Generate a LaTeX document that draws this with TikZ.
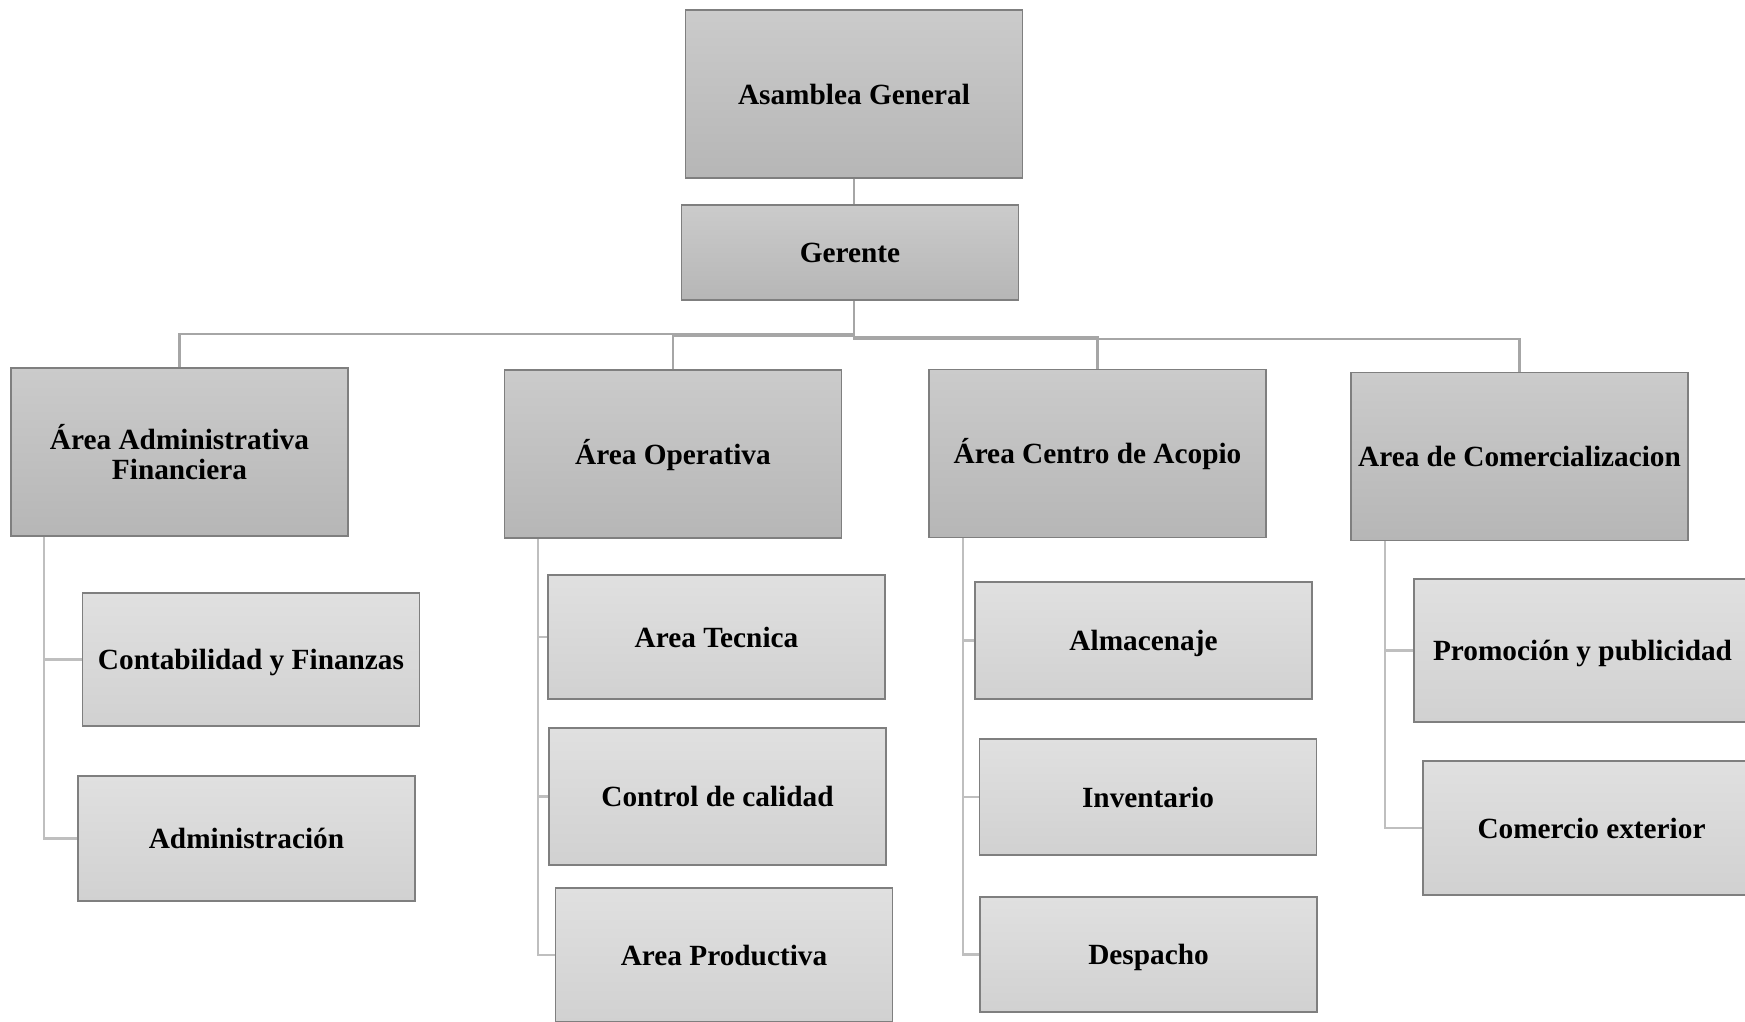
\documentclass[tikz,border=0pt]{standalone}
\usepackage{fontspec}
\setmainfont{Liberation Serif}
\usetikzlibrary{calc}
\definecolor{boxline}{HTML}{7F7F7F}
\definecolor{headtop}{HTML}{CBCBCB}
\definecolor{headbot}{HTML}{B6B6B6}
\definecolor{subtop}{HTML}{E0E0E0}
\definecolor{subbot}{HTML}{D1D1D1}
\definecolor{barcol}{HTML}{A6A6A6}
\definecolor{spinecol}{HTML}{BFBFBF}
\tikzset{
  orgbox/.style={rectangle, draw=boxline, line width=1.6pt, inner sep=0pt,
    align=center, text=black,
    font=\fontsize{29.3}{30}\selectfont\bfseries},
  oneline/.style={text height=20pt, text depth=0pt},
  headbox/.style={orgbox, top color=headtop, bottom color=headbot,
    minimum width=337pt, minimum height=168pt},
  subbox/.style={orgbox, oneline, top color=subtop, bottom color=subbot,
    minimum width=337pt},
  bar/.style={draw=barcol, line width=2.4pt},
  spine/.style={draw=spinecol, line width=2.4pt},
}
\begin{document}
\begin{tikzpicture}[x=1pt, y=-1pt]
\useasboundingbox (0,0) rectangle (1745,1021);
\clip (0,0) rectangle (1745,1021);

% top of the hierarchy
\node[headbox, oneline] (asam) at (854,94) {Asamblea General};
\node[headbox, oneline, minimum height=95pt] (ger) at (850,252.5) {Gerente};

% areas
\node[headbox] (adm) at (179.5,452) {Área Administrativa\\Financiera};
\node[headbox, oneline] (ope) at (673,454) {Área Operativa};
\node[headbox, oneline] (aco) at (1097.5,453.5) {Área Centro de Acopio};
\node[headbox, oneline] (com) at (1519.5,456.5) {Area de Comercializacion};

% units under each area
\node[subbox, minimum height=133pt] (cont) at (251,659.5) {Contabilidad y Finanzas};
\node[subbox, minimum height=125pt] (admn) at (246.5,838.5) {Administración};

\node[subbox, minimum height=124pt] (tec) at (716.5,637) {Area Tecnica};
\node[subbox, minimum height=137pt] (cal) at (717.5,796.5) {Control de calidad};
\node[subbox, minimum height=134pt] (pro) at (724,955) {Area Productiva};

\node[subbox, minimum height=117pt] (alm) at (1143.5,640.5) {Almacenaje};
\node[subbox, minimum height=116pt] (inv) at (1148,797) {Inventario};
\node[subbox, minimum height=115pt] (des) at (1148.5,954.5) {Despacho};

\node[subbox, minimum height=143pt] (prm) at (1582.5,650.5) {Promoción y publicidad};
\node[subbox, minimum height=134pt] (cex) at (1591.5,828) {Comercio exterior};

% connectors between levels
\path[bar] (asam.south) -- (asam.south |- ger.north);
\coordinate (gbot) at (asam.south |- ger.south);
\path[bar] (gbot) -- ++(0,33) -| (adm.north);
\path[bar] (gbot) -- ++(0,35) -| (ope.north);
\path[bar] (gbot) -- ++(0,36) -| (aco.north);
\path[bar] (gbot) -- ++(0,38) -| (com.north);

% side spines to the units
\coordinate (sadm) at ($(adm.south west)+(34,0)$);
\coordinate (sope) at ($(ope.south west)+(34,0)$);
\coordinate (saco) at ($(aco.south west)+(35,0)$);
\coordinate (scom) at ($(com.south west)+(35,0)$);
\path[spine] (sadm) |- (cont.west);
\path[spine] (sadm) |- (admn.west);
\path[spine] (sope) |- (tec.west);
\path[spine] (sope) |- (cal.west);
\path[spine] (sope) |- (pro.west);
\path[spine] (saco) |- (alm.west);
\path[spine] (saco) |- (inv.west);
\path[spine] (saco) |- (des.west);
\path[spine] (scom) |- (prm.west);
\path[spine] (scom) |- (cex.west);
\end{tikzpicture}
\end{document}
